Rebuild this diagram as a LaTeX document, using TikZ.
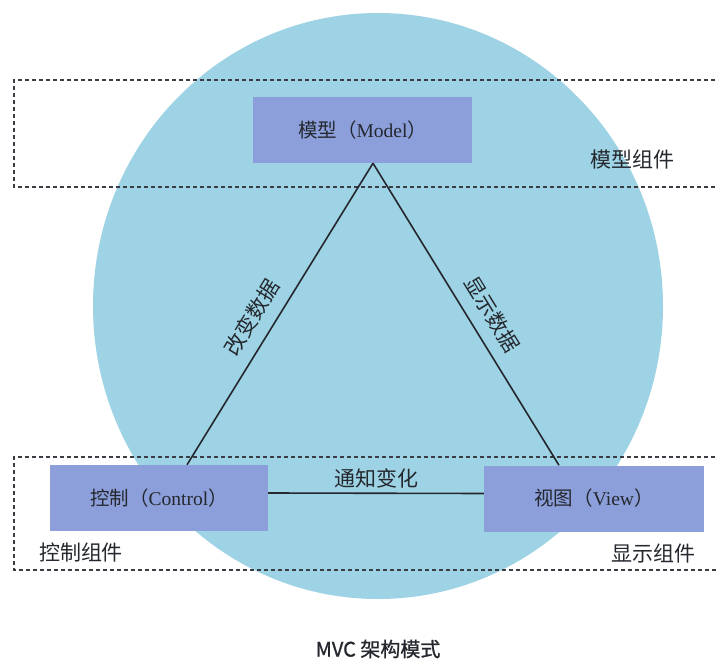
\documentclass[tikz,border=0pt]{standalone}
\usepackage{fontspec}
\setmainfont{Liberation Serif}
\newfontfamily\cjk{Noto Sans CJK SC}
\newfontfamily\cjkb[FakeBold=1]{Noto Sans CJK SC}
\usetikzlibrary{calc}
\definecolor{circ}{RGB}{157,211,228}
\definecolor{boxc}{RGB}{140,159,219}
\definecolor{ink}{RGB}{36,40,46}
\begin{document}
\begin{tikzpicture}[x=1pt,y=-1pt,
  comp/.style={fill=boxc, inner sep=0pt, minimum height=66pt, text=ink,
    font=\fontsize{19.5}{22}\selectfont},
  grp/.style={draw=ink!90, dash pattern=on 4pt off 3pt, line width=1.2pt},
  link/.style={draw=ink, line width=1.6pt},
  lbl/.style={font=\cjk\fontsize{21}{24}\selectfont, text=ink, inner sep=2pt},
  captext/.style={font=\cjkb\fontsize{20}{24}\selectfont, text=ink}]
\useasboundingbox (0,0) rectangle (716,661);
\fill[white] (0,0) rectangle (716,661);
% background disc
\fill[circ] (378,306) ellipse [x radius=285pt, y radius=293pt];
% dashed group frames (open to the right)
\draw[grp] (722,80) -- (14,80) -- (14,187) -- (722,187);
\draw[grp] (722,457) -- (14,457) -- (14,570) -- (722,570);
% components
\node[comp, minimum width=219pt] (model) at (362.5,130) {{\cjk 模型（}Model{\cjk ）}};
\node[comp, minimum width=218pt] (control) at (159,498) {{\cjk 控制（}Control{\cjk ）}};
\node[comp, minimum width=220pt] (view) at (594,498.5) {{\cjk 视图（}View{\cjk ）}};
% group labels
\node[lbl] (gm) at (632,160) {模型组件};
\node[lbl] (gc) at (81,553) {控制组件};
\node[lbl] (gv) at (653,554) {显示组件};
% connectors
\coordinate (apex) at ([xshift=10.5pt]model.south);
\coordinate (cT) at ([xshift=28pt]control.north);
\coordinate (vT) at ([xshift=-35pt]view.north);
\draw[link] (cT) -- node[lbl, sloped, pos=0.45, above=10pt] (l1) {改变数据} (apex);
\draw[link] (apex) -- node[lbl, sloped, pos=0.54, above=10pt] (l2) {显示数据} (vT);
\draw[link] ([yshift=5pt]control.east) -- node[lbl, above=2pt] (l3) {通知变化} ([yshift=5pt]view.west);
% caption
\node[captext] (caption) at (378,649) {MVC 架构模式};
\end{tikzpicture}
\end{document}
